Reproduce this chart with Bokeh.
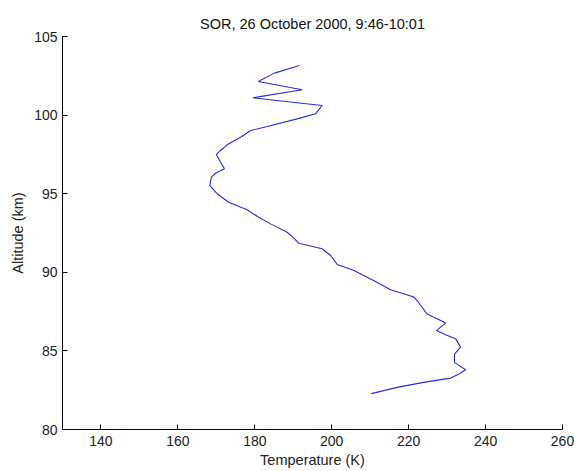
from bokeh.plotting import figure
from bokeh.models import Range1d, FixedTicker, Title
from bokeh.embed import file_html
from bokeh.resources import INLINE

# Temperature profile (K) and altitude (km)
temperature = [191.6, 185.1, 180.9, 192.3, 179.5, 197.5, 195.8, 191.0, 183.2, 178.9,
               176.3, 172.8, 171.1, 170.0, 171.1, 172.1, 169.8, 168.7, 168.3, 170.2,
               173.2, 178.0, 181.0, 184.1, 188.4, 190.1, 191.4, 197.5, 199.7, 201.4,
               205.8, 208.3, 210.9, 215.3, 218.7, 221.4, 222.4, 224.8, 227.4, 229.6,
               227.2, 229.6, 232.2, 233.5, 231.9, 231.9, 234.8, 233.0, 230.9, 223.9,
               217.0, 210.3]
altitude = [103.16, 102.67, 102.14, 101.61, 101.10, 100.61, 100.08, 99.76, 99.27, 99.02,
            98.59, 98.11, 97.75, 97.50, 97.00, 96.58, 96.30, 96.05, 95.52, 95.00,
            94.46, 93.98, 93.50, 93.08, 92.55, 92.19, 91.85, 91.50, 91.07, 90.50,
            90.11, 89.80, 89.48, 88.89, 88.63, 88.42, 88.14, 87.34, 87.05, 86.77,
            86.29, 86.03, 85.78, 85.24, 84.80, 84.27, 83.80, 83.52, 83.27, 83.00,
            82.68, 82.28]

x_ticks = [140, 160, 180, 200, 220, 240, 260]
y_ticks = [80, 85, 90, 95, 100, 105]

title_text = "SOR, 26 October 2000, 9:46-10:01"
x_label = "Temperature (K)"
y_label = "Altitude (km)"

FONT = "Liberation Sans"

p = figure(width=574, height=471, output_backend="svg", toolbar_location=None,
           x_range=Range1d(130, 260), y_range=Range1d(80, 105),
           min_border_left=62, min_border_right=12, min_border_top=36,
           min_border_bottom=42)

t = Title(text=title_text, align="center", text_font=FONT, text_font_size="14.5px",
          text_font_style="normal", text_color="#111111", standoff=10)
p.add_layout(t, "above")

p.line(temperature, altitude, line_color="#2a2ae6", line_width=1.1)

p.xgrid.visible = False
p.ygrid.visible = False
p.outline_line_color = None
p.background_fill_color = "white"
p.border_fill_color = "white"

for ax, ticks in ((p.xaxis[0], x_ticks), (p.yaxis[0], y_ticks)):
    ax.ticker = FixedTicker(ticks=ticks)
    ax.major_tick_in = 5
    ax.major_tick_out = 0
    ax.minor_tick_line_color = None
    ax.axis_line_color = "black"
    ax.major_tick_line_color = "black"
    ax.major_label_text_font = FONT
    ax.major_label_text_font_size = "14px"
    ax.major_label_text_color = "#222222"
    ax.axis_label_text_font = FONT
    ax.axis_label_text_font_size = "14.5px"
    ax.axis_label_text_font_style = "normal"
    ax.axis_label_text_color = "#222222"

p.xaxis.axis_label = x_label
p.yaxis.axis_label = y_label
p.xaxis.major_label_standoff = 6
p.yaxis.major_label_standoff = 5
p.xaxis.axis_label_standoff = 3
p.yaxis.axis_label_standoff = 5

open("out.html", "w").write(file_html(p, INLINE))
